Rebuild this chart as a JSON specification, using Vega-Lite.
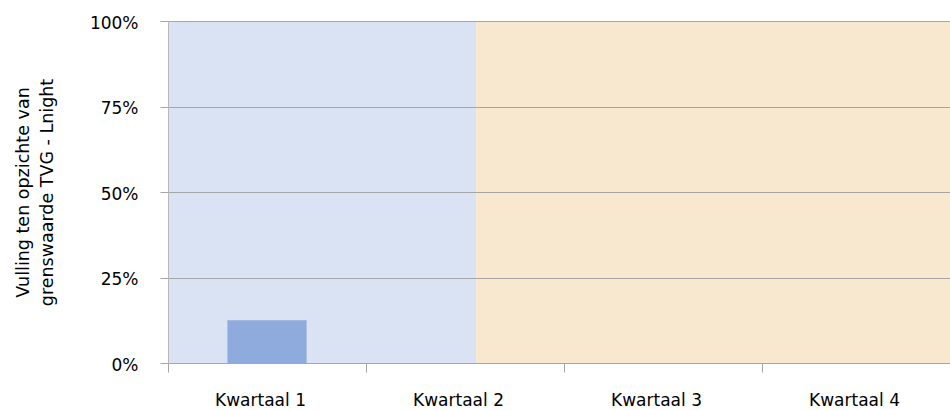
{
  "$schema": "https://vega.github.io/schema/vega-lite/v6.json",
  "autosize": "none",
  "width": 782,
  "height": 342,
  "padding": {"left": 168, "top": 21, "right": 0, "bottom": 47},
  "config": {
    "view": {"stroke": null},
    "font": "DejaVu Sans",
    "axis": {"labelFont": "DejaVu Sans", "titleFont": "DejaVu Sans"}
  },
  "layer": [
    {
      "data": {
        "values": [
          {"periode": "A", "start": 0, "end": 1.556},
          {"periode": "B", "start": 1.556, "end": 4}
        ]
      },
      "mark": {"type": "rect"},
      "encoding": {
        "x": {"field": "start", "type": "quantitative", "scale": {"domain": [0, 4], "range": [0, 792], "nice": false, "zero": false}, "axis": null},
        "x2": {"field": "end"},
        "color": {"field": "periode", "type": "nominal", "scale": {"domain": ["A", "B"], "range": ["#dae3f3", "#f8e8cf"]}, "legend": null}
      }
    },
    {
      "data": {
        "values": [
          {"kwartaal": "Kwartaal 1", "vulling": 0.125},
          {"kwartaal": "Kwartaal 2", "vulling": null},
          {"kwartaal": "Kwartaal 3", "vulling": null},
          {"kwartaal": "Kwartaal 4", "vulling": null}
        ]
      },
      "mark": {"type": "bar", "color": "#8faadc", "width": {"band": 0.4}},
      "encoding": {
        "x": {
          "field": "kwartaal", "type": "nominal",
          "scale": {"domain": ["Kwartaal 1", "Kwartaal 2", "Kwartaal 3", "Kwartaal 4"], "range": [0, 792], "paddingInner": 0, "paddingOuter": 0},
          "axis": {
            "title": null, "labelAngle": 0, "labelFontSize": 17, "labelColor": "#000000",
            "tickBand": "extent", "tickSize": 9, "tickColor": "#a6a6a6", "domainColor": "#a6a6a6",
            "labelPadding": 20, "labelOffset": -7, "grid": false
          }
        },
        "y": {
          "field": "vulling", "type": "quantitative",
          "scale": {"domain": [0, 1], "nice": false},
          "axis": {
            "title": ["Vulling ten opzichte van", "grenswaarde TVG - Lnight"],
            "titleFontSize": 17.5, "titleFontWeight": "normal", "titleColor": "#000000", "titleLineHeight": 24,
            "titlePadding": 33,
            "values": [0, 0.25, 0.5, 0.75, 1], "format": ".0%",
            "labelFontSize": 17, "labelColor": "#000000", "labelPadding": 22, "labelOffset": 2,
            "tickSize": 8, "tickColor": "#a6a6a6", "domainColor": "#b8b8b8",
            "grid": true, "gridColor": "#a6a6a6", "zindex": 1
          }
        }
      }
    }
  ],
  "resolve": {"scale": {"x": "independent", "color": "independent"}}
}
